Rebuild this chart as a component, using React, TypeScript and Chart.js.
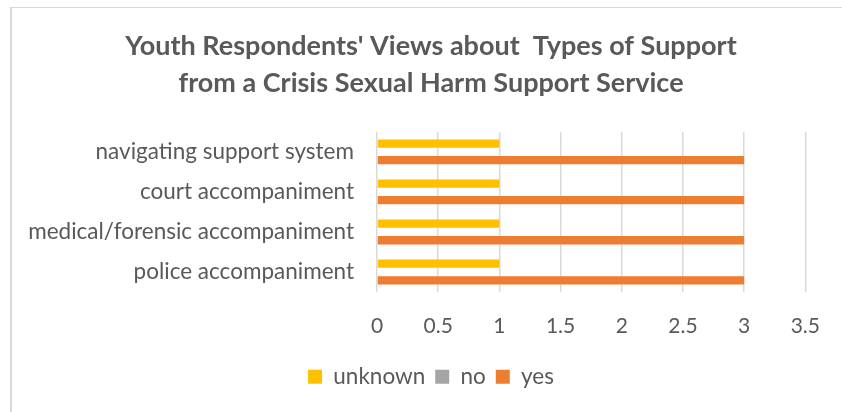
import React, { useEffect, useRef } from "react";
import { Chart, registerables } from "chart.js";

Chart.register(...registerables);

const titleLines = [
  "Youth Respondents' Views about  Types of Support",
  "from a Crisis Sexual Harm Support Service",
];
const categories = [
  "navigating support system",
  "court accompaniment",
  "medical/forensic accompaniment",
  "police accompaniment",
];
const unknownValues = [1, 1, 1, 1];
const noValues = [0, 0, 0, 0];
const yesValues = [3, 3, 3, 3];
const xMin = 0;
const xMax = 3.5;
const xStep = 0.5;

const TEXT = "#595959";
const GRID = "#D9D9D9";

const frame = {
  id: "frame",
  beforeDraw(chart: any) {
    const ctx = chart.ctx;
    ctx.save();
    ctx.fillStyle = "#ffffff";
    ctx.fillRect(0, 0, chart.width, chart.height);
    ctx.fillStyle = GRID;
    ctx.fillRect(10, 7, 2, chart.height - 7);
    ctx.fillRect(10, 7, chart.width - 10, 1);
    ctx.restore();
  },
};

export default function App() {
  const ref = useRef<HTMLCanvasElement | null>(null);
  useEffect(() => {
    if (!ref.current) return;
    Chart.defaults.font.family = "Lato, 'Open Sans', sans-serif";
    Chart.defaults.color = TEXT;
    const chart = new Chart(ref.current, {
      type: "bar",
      data: {
        labels: categories,
        datasets: [
          { label: "unknown", data: unknownValues, backgroundColor: "#FFC000", borderWidth: 0 },
          { label: "no", data: noValues, backgroundColor: "#A5A5A5", borderWidth: 0 },
          { label: "yes", data: yesValues, backgroundColor: "#ED7D31", borderWidth: 0 },
        ],
      },
      options: {
        indexAxis: "y",
        responsive: false,
        animation: false,
        maintainAspectRatio: false,
        layout: { padding: { left: 20, right: 0, top: 0, bottom: 14 } },
        datasets: { bar: { categoryPercentage: 0.62, barPercentage: 1 } },
        scales: {
          x: {
            min: xMin,
            max: xMax,
            ticks: {
              stepSize: xStep,
              padding: 22,
              color: TEXT,
              font: { size: 21 },
              callback: (v: any) => String(Number(v)),
            },
            grid: { color: GRID, lineWidth: 1.5, drawTicks: false },
            border: { display: false },
            afterFit(scale: any) {
              scale.height = 63.5;
            },
          },
          y: {
            ticks: { padding: 23, color: TEXT, font: { size: 22.5 } },
            grid: { display: false, drawTicks: false },
            border: { display: false },
            afterFit(scale: any) {
              scale.width = 377 - 20;
            },
          },
          yRight: {
            type: "category",
            position: "right",
            display: true,
            ticks: { display: false },
            grid: { display: false, drawTicks: false },
            border: { display: false },
            afterFit(scale: any) {
              scale.width = 35;
            },
          },
        },
        plugins: {
          title: {
            display: true,
            text: titleLines,
            color: TEXT,
            font: { size: 27, weight: "bold", lineHeight: 1.36 },
            padding: { top: 28, bottom: 30.5 },
          },
          legend: {
            position: "bottom",
            labels: {
              boxWidth: 14,
              boxHeight: 14,
              padding: 10,
              color: TEXT,
              font: { size: 22.5 },
            },
          },
          tooltip: { enabled: false },
        },
      },
      plugins: [frame],
    });
    return () => chart.destroy();
  }, []);
  return (
    <div style={{ position: "absolute", left: 0, top: 0, width: 842, height: 412, background: "#fff" }}>
      <canvas ref={ref} width={842} height={412} />
    </div>
  );
}
